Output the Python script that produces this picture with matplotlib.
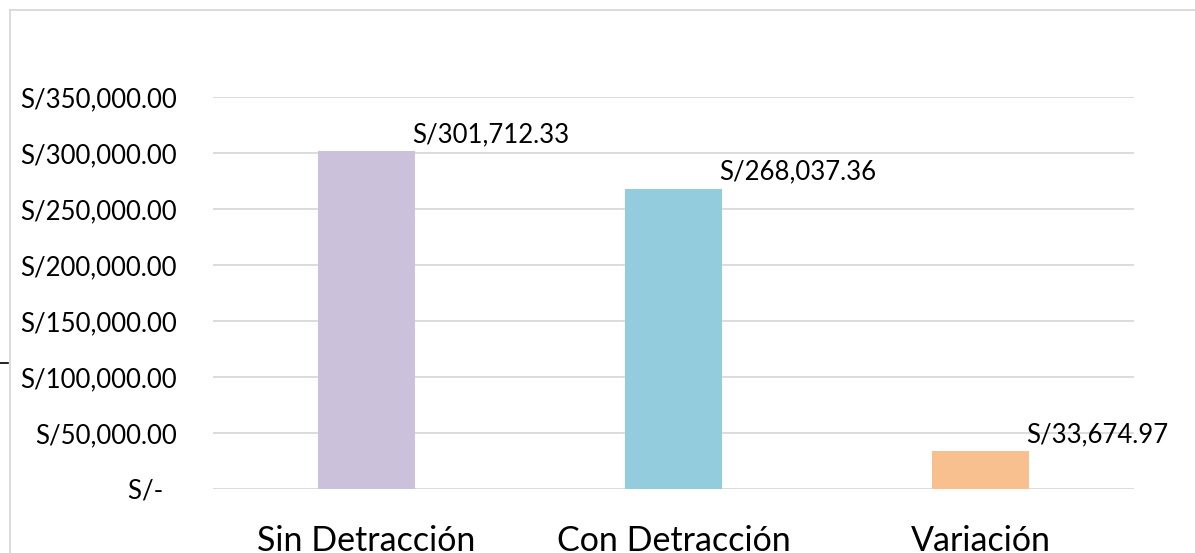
import matplotlib.pyplot as plt
from matplotlib.ticker import FuncFormatter
from matplotlib.lines import Line2D

# datos del grafico
categorias = ["Sin Detracción", "Con Detracción", "Variación"]
valores = [301712.33, 268037.36, 33674.97]
colores = ["#CBC1DB", "#93CDDD", "#F9C08F"]
ticks_y = [0, 50000, 100000, 150000, 200000, 250000, 300000, 350000]

plt.rcParams['font.family'] = ['Lato', 'DejaVu Sans']

W, H = 1195, 553
fig = plt.figure(figsize=(W / 100, H / 100), dpi=100)
ax = fig.add_axes([213 / W, 1 - 489 / H, (1134 - 213) / W, (489 - 97) / H])

x = range(len(categorias))
barras = ax.bar(x, valores, width=0.316, color=colores, zorder=2)

ax.set_xlim(-0.5, 2.5)
ax.set_ylim(0, 350000)
ax.set_yticks(ticks_y)


def formato(v, pos):
    if v == 0:
        return "S/-  "
    return "S/{:,.2f}".format(v)


ax.yaxis.set_major_formatter(FuncFormatter(formato))
ax.set_xticks(list(x))
ax.set_xticklabels(categorias, fontsize=24.5)
ax.tick_params(axis='y', length=0, pad=26, labelsize=18.5)
ax.tick_params(axis='x', length=0, pad=26)
ax.grid(axis='y', color='#d9d9d9', linewidth=1.3, zorder=0)
for s in ax.spines.values():
    s.set_visible(False)

# etiquetas de datos
for b, v in zip(barras, valores):
    ax.annotate("S/{:,.2f}".format(v), (b.get_x() + b.get_width(), v),
                xytext=(-2, 3), textcoords='offset points',
                ha='left', va='bottom', fontsize=18.5, annotation_clip=False)

# marco del area del grafico
fig.add_artist(Line2D([9.5 / W, 9.5 / W], [0, 1 - 9.5 / H], color='#d9d9d9', linewidth=1.3))
fig.add_artist(Line2D([9.5 / W, 1], [1 - 9.5 / H, 1 - 9.5 / H], color='#d9d9d9', linewidth=1.3))
fig.add_artist(Line2D([0, 8 / W], [1 - 363 / H, 1 - 363 / H], color='black', linewidth=1.2))

fig.savefig("out.png", dpi=100)
